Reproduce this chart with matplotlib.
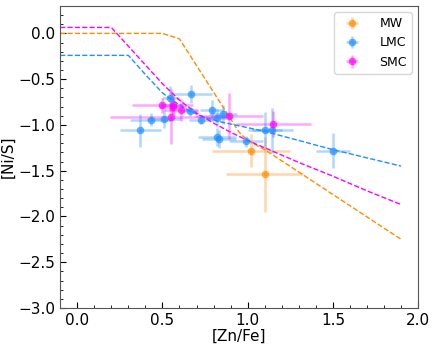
import numpy as np
import matplotlib
matplotlib.use("Agg")
import matplotlib.pyplot as plt

# data points
mw_x = [1.02, 1.10]
mw_y = [-1.28, -1.54]
mw_xerr = [0.23, 0.225]
mw_yerr = [0.18, 0.41]

lmc_x = [0.37, 0.43, 0.51, 0.545, 0.67, 0.66, 0.725, 0.79, 0.82, 0.855, 0.82, 0.83, 0.99, 1.10, 1.145, 1.50]
lmc_y = [-1.06, -0.945, -0.93, -0.71, -0.665, -0.85, -0.945, -0.835, -0.925, -0.885, -1.135, -1.15, -1.18, -1.06, -1.06, -1.28]
lmc_xerr = [0.12, 0.12, 0.1, 0.05, 0.12, 0.05, 0.07, 0.07, 0.05, 0.08, 0.11, 0.1, 0.1, 0.1, 0.12, 0.1]
lmc_yerr = [0.18, 0.07, 0.1, 0.14, 0.1, 0.05, 0.05, 0.11, 0.1, 0.1, 0.1, 0.1, 0.06, 0.2, 0.25, 0.19]

smc_x = [0.50, 0.56, 0.56, 0.55, 0.61, 0.89, 1.15]
smc_y = [-0.785, -0.78, -0.80, -0.91, -0.84, -0.90, -0.99]
smc_xerr = [0.18, 0.06, 0.08, 0.36, 0.1, 0.2, 0.22]
smc_yerr = [0.08, 0.1, 0.08, 0.30, 0.12, 0.25, 0.14]

# depletion model curves
mw_mx = [-0.1, 0.5, 0.6, 0.95, 1.0, 1.1, 1.5, 1.9]
mw_my = [0.0, 0.0, -0.06, -1.08, -1.17, -1.27, -1.76, -2.25]
lmc_mx = [-0.1, 0.3, 0.4, 0.5, 0.55, 0.66, 0.75, 0.85, 1.0, 1.1, 1.3, 1.5, 1.7, 1.9]
lmc_my = [-0.24, -0.24, -0.45, -0.65, -0.72, -0.85, -0.92, -0.97, -1.03, -1.07, -1.17, -1.27, -1.36, -1.45]
smc_mx = [-0.1, 0.2, 0.5, 0.6, 0.7, 0.8, 0.9, 1.0, 1.15, 1.3, 1.5, 1.7, 1.9]
smc_my = [0.065, 0.065, -0.55, -0.73, -0.87, -0.98, -1.08, -1.17, -1.29, -1.41, -1.56, -1.72, -1.87]

c_mw = "darkorange"
c_lmc = "dodgerblue"
c_smc = "magenta"

fig = plt.figure(figsize=(4.36, 3.49), dpi=100)
ax = fig.add_axes([0.138, 0.1175, 0.821, 0.8655])

for x, y, xe, ye, c, lab in [(mw_x, mw_y, mw_xerr, mw_yerr, c_mw, "MW"),
                             (lmc_x, lmc_y, lmc_xerr, lmc_yerr, c_lmc, "LMC"),
                             (smc_x, smc_y, smc_xerr, smc_yerr, c_smc, "SMC")]:
    eb = ax.errorbar(x, y, xerr=xe, yerr=ye, fmt="o", color=c, ms=5.5,
                     ecolor=c, elinewidth=1.8, capsize=0, label=lab,
                     markeredgewidth=0)
    eb[0].set_alpha(0.7)
    for lc in eb[2]:
        lc.set_alpha(0.35)

for x, y, c in [(mw_mx, mw_my, c_mw), (lmc_mx, lmc_my, c_lmc), (smc_mx, smc_my, c_smc)]:
    ax.plot(x, y, "--", color=c, lw=1)

ax.set_xlim(-0.1, 2.0)
ax.set_ylim(-3.0, 0.3)
ax.set_xticks([0.0, 0.5, 1.0, 1.5, 2.0])
ax.set_yticks([0.0, -0.5, -1.0, -1.5, -2.0, -2.5, -3.0])
ax.minorticks_on()
ax.tick_params(which="both", direction="in", labelsize=11)
ax.tick_params(which="major", length=4)
ax.tick_params(which="minor", length=2)
for s in ax.spines.values():
    s.set_color("#555555")
ax.set_xlabel("[Zn/Fe]", fontsize=11, labelpad=1)
ax.set_ylabel("[Ni/S]", fontsize=11, labelpad=2)
ax.legend(loc="upper right", fontsize=9, handletextpad=1.2)

fig.savefig("out.png", dpi=100)
